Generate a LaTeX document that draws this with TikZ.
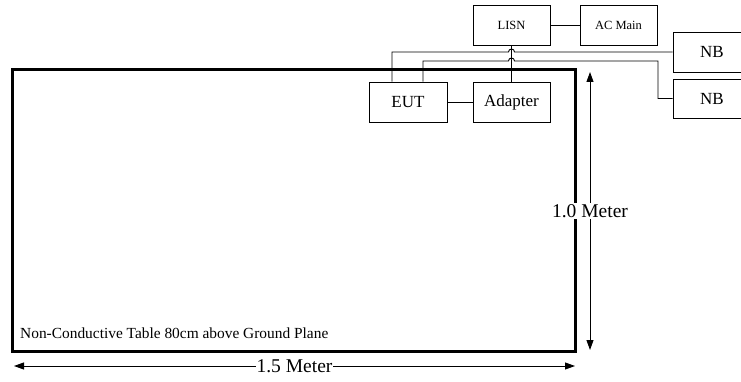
\documentclass[tikz,border=0pt]{standalone}
\usepackage{fontspec}
\setmainfont{Liberation Serif}
\usetikzlibrary{positioning,arrows.meta,calc}
\tikzset{
  devbox/.style={
    rectangle, draw=black, fill=white, line width=0.9pt,
    minimum width=78pt, minimum height=40pt, inner sep=0pt,
    font=\fontsize{17}{20}\selectfont,
  },
  smallbox/.style={
    devbox, minimum width=77pt, font=\fontsize{12.5}{15}\selectfont,
  },
  wire/.style={line width=0.9pt, black},
  dimarrow/.style={{Triangle[length=10pt,width=7pt]}-{Triangle[length=10pt,width=7pt]}, line width=0.9pt},
  dimlabel/.style={fill=white, inner sep=1pt, font=\fontsize{19.5}{22}\selectfont},
}

\begin{document}
\begin{tikzpicture}[x=1pt, y=-1pt]

  \clip (0,0) rectangle (741,382);

  % table
  \node[draw, line width=3pt, minimum width=563pt, minimum height=281pt, inner sep=0pt] (table) at (293.5,210.5) {};
  \node[anchor=west, inner sep=0pt, font=\fontsize{15.4}{18}\selectfont] (tablelbl) at (20,333) {Non-Conductive Table 80cm above Ground Plane};

  % top row
  \node[smallbox] (lisn) at (511.5,25) {LISN};
  \node[smallbox] (acmain) at (618.5,25) {AC Main};
  \node[devbox] (nbone) at (712,52) {NB};
  \node[devbox, minimum height=39pt] (nbtwo) at (712,98.5) {NB};

  % on the table
  \node[devbox] (eut) at (408,102) {EUT};
  \node[devbox, minimum width=77pt] (adapter) at (511.5,102) {Adapter};

  % hop points
  \coordinate (bendtwo) at (658,61);
  \coordinate (hopone) at (adapter.north |- nbone.west);
  \coordinate (hoptwo) at (adapter.north |- bendtwo);

  \draw[wire] (lisn) -- (acmain);
  \draw[wire] (eut) -- (adapter);
  \draw[wire] (adapter.north) -- (lisn.south);
  \draw[wire] ([xshift=-16pt]eut.north) |- ([xshift=-3pt]hopone)
    arc[start angle=180, end angle=0, radius=3pt] -- (nbone.west);
  \draw[wire] ([xshift=15pt]eut.north) |- ([xshift=-3pt]hoptwo)
    arc[start angle=180, end angle=0, radius=3pt] -- (bendtwo) |- (nbtwo.west);

  % dimensions
  \coordinate (wleft) at (14,366);
  \coordinate (wright) at (575,366);
  \coordinate (htop) at (590,72);
  \coordinate (hbot) at (590,350);
  \draw[dimarrow] (wleft) -- node[dimlabel] (wlbl) {1.5 Meter} (wright);
  \draw[dimarrow] (htop) -- node[dimlabel, inner xsep=0pt] (hlbl) {1.0 Meter} (hbot);

\end{tikzpicture}
\end{document}
